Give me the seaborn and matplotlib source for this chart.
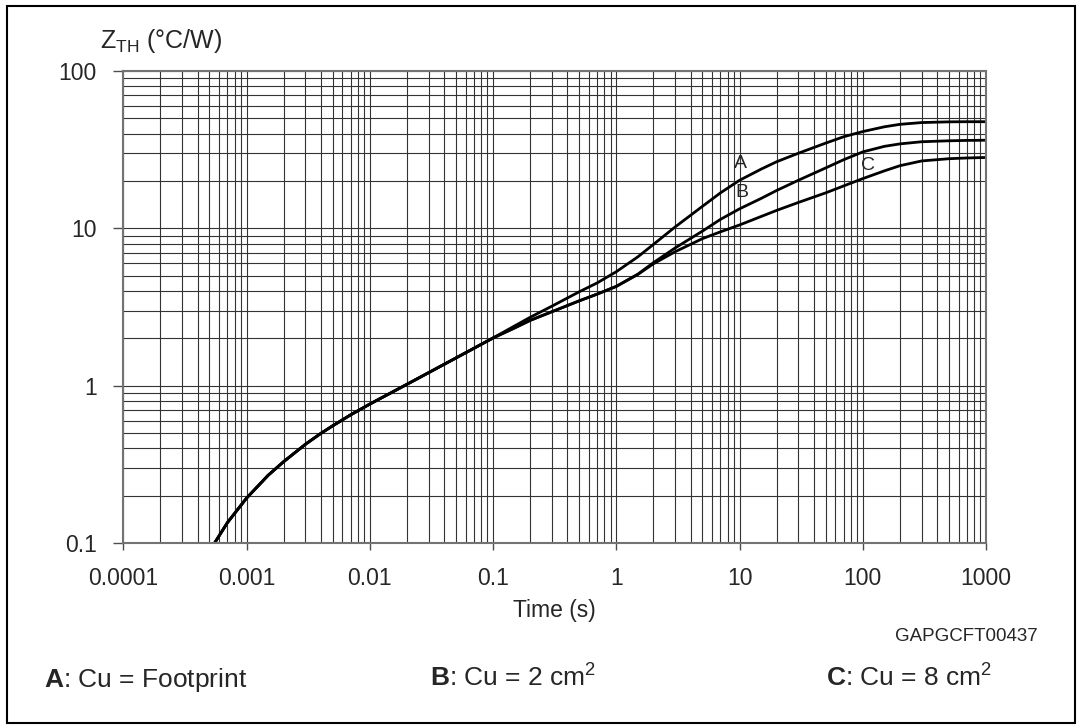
import matplotlib
matplotlib.use("Agg")
import pandas as pd
import matplotlib.pyplot as plt
import seaborn as sns
from matplotlib.patches import Rectangle

# shared part of the three curves (they overlap up to ~0.1 s)
time_common = [0.00055, 0.0007, 0.001, 0.0015, 0.002, 0.003, 0.004, 0.005,
               0.007, 0.01, 0.02, 0.05, 0.1]
z_common = [0.1, 0.135, 0.193, 0.27, 0.329, 0.424, 0.497, 0.556,
            0.653, 0.764, 1.02, 1.5, 2.01]

time_split = [0.15, 0.2, 0.3, 0.5, 0.7, 1, 1.5, 2, 3, 5, 7, 10, 15, 20, 30, 50,
              70, 100, 150, 200, 300, 500, 700, 1000]
z_a = [2.4, 2.72, 3.2, 3.95, 4.5, 5.3, 6.6, 7.9, 10.2, 13.8, 16.8, 20.2, 23.8,
       26.5, 30, 34.8, 38.2, 41.2, 44.2, 45.8, 47, 47.5, 47.6, 47.6]
z_b = [2.33, 2.6, 2.95, 3.46, 3.82, 4.28, 5.12, 6.05, 7.5, 9.6, 11.4, 13.3,
       15.5, 17.4, 20.2, 24.2, 27.3, 30.6, 33.2, 34.4, 35.5, 36.0, 36.2, 36.3]
z_c = [2.33, 2.6, 2.95, 3.46, 3.82, 4.27, 5.1, 5.95, 7.1, 8.6, 9.5, 10.5,
       11.9, 13.0, 14.6, 16.8, 18.6, 20.7, 23.2, 25.0, 26.8, 27.7, 28.0, 28.2]

x_ticks = [0.0001, 0.001, 0.01, 0.1, 1, 10, 100, 1000]
x_labels = ["0.0001", "0.001", "0.01", "0.1", "1", "10", "100", "1000"]
y_ticks = [0.1, 1, 10, 100]
y_labels = ["0.1", "1", "10", "100"]

rows = []
for name, zs in [("A", z_a), ("B", z_b), ("C", z_c)]:
    for t, z in zip(time_common + time_split, z_common + zs):
        rows.append({"curve": name, "time": t, "zth": z})
df = pd.DataFrame(rows)

sns.set_style("white")
plt.rcParams["font.family"] = ["Liberation Sans", "DejaVu Sans"]
plt.rcParams["mathtext.fontset"] = "custom"
plt.rcParams["mathtext.rm"] = "Liberation Sans"
plt.rcParams["mathtext.it"] = "Liberation Sans:italic"
plt.rcParams["mathtext.bf"] = "Liberation Sans:bold"

fig = plt.figure(figsize=(10.82, 7.28), dpi=100)
ax = fig.add_axes([0.1140, 0.2541, 0.7973, 0.6484])

sns.lineplot(data=df, x="time", y="zth", hue="curve",
             palette={"A": "black", "B": "black", "C": "black"},
             linewidth=2.0, legend=False, ax=ax, sort=True, estimator=None)

ax.set_xscale("log")
ax.set_yscale("log")
ax.set_xlim(0.0001, 1000)
ax.set_ylim(0.1, 100)
ax.set_xticks(x_ticks)
ax.set_xticklabels(x_labels)
ax.set_yticks(y_ticks)
ax.set_yticklabels(y_labels)
ax.grid(which="both", color="0.2", linewidth=0.8)
ax.set_axisbelow(True)
ax.tick_params(which="minor", length=0)
ax.tick_params(axis="x", which="major", length=5, width=1, color="0.3",
               labelsize=16.5, pad=12, direction="out", bottom=True)
ax.tick_params(axis="y", which="major", length=7, width=1, color="0.3",
               labelsize=16.5, pad=12, direction="out", left=True)
for s in ax.spines.values():
    s.set_color("0.45")
    s.set_linewidth(1.5)

ax.set_xlabel("Time (s)", fontsize=16.5, labelpad=7)
ax.set_ylabel("")

ax.text(10.2, 25.8, "A", fontsize=14, ha="center", va="center")
ax.text(10.5, 16.8, "B", fontsize=14, ha="center", va="center")
ax.text(110, 25.2, "C", fontsize=14, ha="center", va="center")

W, H = 1082, 728
fig.text(100 / W, 1 - 48 / H, r"Z$_{\mathrm{TH}}$ (°C/W)", fontsize=18,
         ha="left", va="baseline")
fig.text(1038 / W, 1 - 641 / H, "GAPGCFT00437", fontsize=13.5,
         ha="right", va="baseline")
fig.text(44 / W, 1 - 687 / H, r"$\mathbf{A}$: Cu = Footprint", fontsize=19,
         ha="left", va="baseline")
fig.text(430 / W, 1 - 687 / H, r"$\mathbf{B}$: Cu = 2 cm$^{2}$", fontsize=19,
         ha="left", va="baseline")
fig.text(826 / W, 1 - 687 / H, r"$\mathbf{C}$: Cu = 8 cm$^{2}$", fontsize=19,
         ha="left", va="baseline")

fig.patches.append(Rectangle((7 / W, 1 - 723 / H), 1068 / W, 717 / H,
                             transform=fig.transFigure, fill=False,
                             edgecolor="black", linewidth=1.5))

fig.savefig("out.png", dpi=100)
